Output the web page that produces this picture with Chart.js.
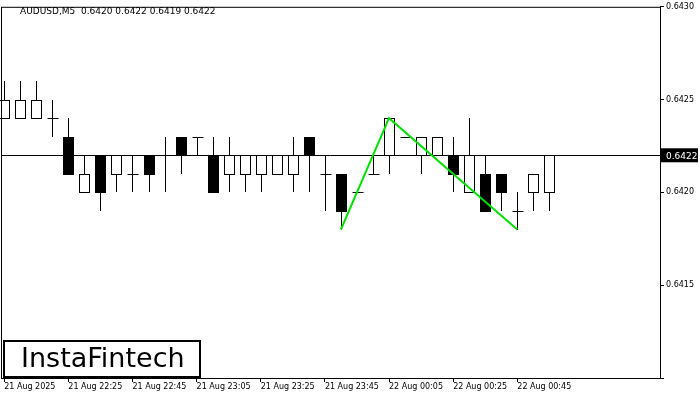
<!DOCTYPE html>
<html>
<head>
<meta charset="utf-8">
<script src="https://cdn.jsdelivr.net/npm/chart.js@4"></script>
<style>
  body { margin: 0; background: #fff; }
  #wrap { width: 700px; height: 400px; }
</style>
</head>
<body>
<div id="wrap"><canvas id="chart"></canvas></div>
<script>
// candles, 5 minute bars starting 21 Aug 22:05
const opens  = [0.6424,0.6424,0.6424,0.6424,0.6423,0.6420,0.6422,0.6421,0.6421,0.6422,0.6422,0.6423,0.6423,0.6422,0.6421,0.6421,0.6421,0.6421,0.6421,0.6423,0.6421,0.6421,0.6420,0.6421,0.6422,0.6423,0.6422,0.6422,0.6422,0.6420,0.6421,0.6421,0.6419,0.6420,0.6420];
const highs  = [0.6426,0.6426,0.6426,0.6425,0.6424,0.6422,0.6422,0.6422,0.6422,0.6422,0.6423,0.6423,0.6423,0.6423,0.6423,0.6422,0.6422,0.6422,0.6423,0.6423,0.6422,0.6421,0.6420,0.6422,0.6424,0.6423,0.6423,0.6423,0.6423,0.6424,0.6422,0.6421,0.6420,0.6421,0.6422];
const lows   = [0.6424,0.6424,0.6424,0.6423,0.6421,0.6420,0.6419,0.6420,0.6420,0.6420,0.6420,0.6421,0.6422,0.6420,0.6420,0.6420,0.6420,0.6421,0.6420,0.6420,0.6419,0.6418,0.6420,0.6421,0.6421,0.6423,0.6421,0.6422,0.6420,0.6420,0.6419,0.6419,0.6418,0.6419,0.6419];
const closes = [0.6425,0.6425,0.6425,0.6424,0.6421,0.6421,0.6420,0.6422,0.6421,0.6421,0.6422,0.6422,0.6423,0.6420,0.6422,0.6422,0.6422,0.6422,0.6422,0.6422,0.6421,0.6419,0.6420,0.6421,0.6424,0.6423,0.6423,0.6423,0.6421,0.6422,0.6419,0.6420,0.6419,0.6421,0.6422];
const timeLabels = {0:'21 Aug 2025',4:'21 Aug 22:25',8:'21 Aug 22:45',12:'21 Aug 23:05',16:'21 Aug 23:25',20:'21 Aug 23:45',24:'22 Aug 00:05',28:'22 Aug 00:25',32:'22 Aug 00:45'};
// pattern line: bar index and price
const patternIdx = [21, 24, 32];
const patternPrice = [0.6418, 0.6424, 0.6418];
const lastPrice = 0.6422;
const header = 'AUDUSD,M5  0.6420 0.6422 0.6419 0.6422';

const candlePlugin = {
  id: 'candles',
  beforeDatasetsDraw(chart) {
    const ctx = chart.ctx, x = chart.scales.x, y = chart.scales.y, a = chart.chartArea;
    ctx.save();
    ctx.strokeStyle = '#000';
    ctx.lineWidth = 1;
    // last price line
    const py = Math.round(y.getPixelForValue(lastPrice)) + 0.5;
    ctx.beginPath(); ctx.moveTo(a.left, py); ctx.lineTo(a.right, py); ctx.stroke();
    for (let i = 0; i < opens.length; i++) {
      const cx = Math.round(x.getPixelForValue(i)) + 0.5;
      const yo = Math.round(y.getPixelForValue(opens[i]));
      const yc = Math.round(y.getPixelForValue(closes[i]));
      const yh = Math.round(y.getPixelForValue(highs[i]));
      const yl = Math.round(y.getPixelForValue(lows[i]));
      ctx.beginPath(); ctx.moveTo(cx, yh); ctx.lineTo(cx, yl); ctx.stroke();
      const top = Math.min(yo, yc), h = Math.abs(yo - yc);
      if (h === 0) {
        ctx.beginPath(); ctx.moveTo(cx - 5, top + 0.5); ctx.lineTo(cx + 6, top + 0.5); ctx.stroke();
      } else if (closes[i] < opens[i]) {
        ctx.fillStyle = '#000';
        ctx.fillRect(cx - 5.5, top, 11, h + 1);
      } else {
        ctx.fillStyle = '#fff';
        ctx.fillRect(cx - 5, top + 0.5, 10, h);
        ctx.strokeRect(cx - 5, top + 0.5, 10, h);
      }
    }
    ctx.restore();
  },
  afterDraw(chart) {
    const ctx = chart.ctx, y = chart.scales.y, a = chart.chartArea;
    ctx.save();
    // frame
    ctx.strokeStyle = '#000'; ctx.lineWidth = 1;
    ctx.strokeRect(a.left + 0.5, a.top + 0.5, a.right - a.left, a.bottom - a.top);
    // price tag
    const py = y.getPixelForValue(lastPrice);
    ctx.fillStyle = '#000';
    ctx.fillRect(a.right, py - 7, 38, 14);
    ctx.fillStyle = '#fff';
    ctx.font = '9px "DejaVu Sans"';
    ctx.textBaseline = 'middle';
    ctx.fillText(lastPrice.toFixed(4), a.right + 6, py + 1);
    // header
    ctx.fillStyle = '#000';
    ctx.fillText(header, 20, 12);
    // logo
    ctx.fillStyle = '#fff';
    ctx.fillRect(3, 340, 198, 38);
    ctx.lineWidth = 2;
    ctx.strokeRect(4, 341, 196, 36);
    ctx.fillStyle = '#000';
    ctx.font = '27px "DejaVu Sans"';
    ctx.fillText('InstaFintech', 21, 360);
    ctx.restore();
  }
};

new Chart(document.getElementById('chart'), {
  type: 'line',
  data: {
    datasets: [{
      data: patternIdx.map((v, i) => ({ x: v, y: patternPrice[i] })),
      borderColor: '#00e000',
      borderWidth: 2,
      pointRadius: 0,
      tension: 0
    }]
  },
  options: {
    responsive: true,
    maintainAspectRatio: false,
    animation: false,
    layout: { padding: { top: 2, left: 1, right: 0, bottom: 0 } },
    plugins: { legend: { display: false }, tooltip: { enabled: false } },
    scales: {
      x: {
        type: 'linear',
        min: -0.2,
        max: 40.9,
        afterBuildTicks: s => { s.ticks = Object.keys(timeLabels).map(k => ({ value: +k })); },
        afterFit: s => { s.height = 22; },
        grid: { display: true, drawOnChartArea: false, tickLength: 4, color: '#000' },
        border: { display: false },
        ticks: {
          align: 'start',
          maxRotation: 0,
          autoSkip: false,
          padding: 0,
          color: '#000',
          font: { family: 'DejaVu Sans', size: 8 },
          callback: v => timeLabels[v] || ''
        }
      },
      y: {
        position: 'right',
        min: 0.6410,
        max: 0.6430,
        afterFit: s => { s.width = 40; },
        grid: { display: true, drawOnChartArea: false, tickLength: 4, color: '#000' },
        border: { display: false },
        ticks: {
          stepSize: 0.0005,
          padding: 2,
          color: '#000',
          font: { family: 'DejaVu Sans', size: 8 },
          callback: v => (Math.abs(v - 0.6410) < 1e-7 ? '' : v.toFixed(4))
        }
      }
    }
  },
  plugins: [candlePlugin]
});
</script>
</body>
</html>
